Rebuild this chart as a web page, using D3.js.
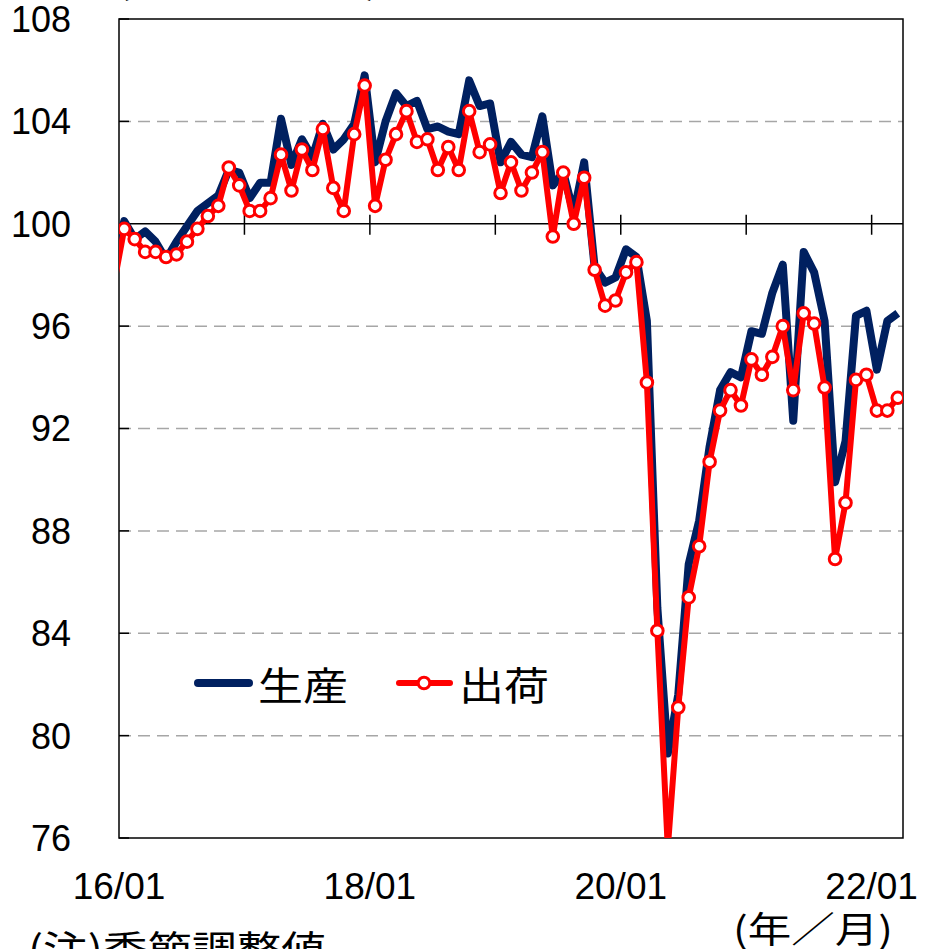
<!DOCTYPE html>
<meta charset="utf-8">
<style>
body { margin: 0; background: #fff; }
svg { display: block; }
text { font-family: "Liberation Sans", Arial, sans-serif; fill: #000; }
.jp { font-family: "Noto Sans CJK JP", sans-serif; }
</style>
<body>
<script src="https://d3js.org/d3.v7.min.js"></script>
<script>

// months from 2015/12 to 2022/03 (first one sits just left of the axis)
var months = d3.timeMonth.range(new Date(2015, 11, 1), new Date(2022, 3, 1));

// 生産 (production index)
var production = [98.6,
  100.1, 99.4, 99.7, 99.3, 98.6, 99.3, 99.9, 100.5, 100.8, 101.1, 102.1, 102.0,
  101.0, 101.6, 101.6, 104.1, 102.3, 103.3, 102.6, 103.9, 102.9, 103.3, 103.9, 105.8,
  102.4, 104.0, 105.1, 104.6, 104.8, 103.7, 103.8, 103.6, 103.5, 105.6, 104.6, 104.7,
  102.4, 103.2, 102.7, 102.6, 104.2, 101.5, 102.0, 100.4, 102.4, 98.3, 97.7, 97.9,
  99.0, 98.7, 96.2, 85.0, 79.3, 81.6, 86.7, 88.4, 91.3, 93.5, 94.2, 94.0,
  95.8, 95.7, 97.3, 98.4, 92.3, 98.9, 98.1, 96.2, 89.9, 91.5, 96.4, 96.6,
  94.3, 96.2, 96.5];

// 出荷 (shipments index)
var shipments = [97.6,
  99.8, 99.4, 98.9, 98.9, 98.7, 98.8, 99.3, 99.8, 100.3, 100.7, 102.2, 101.5,
  100.5, 100.5, 101.0, 102.7, 101.3, 102.9, 102.1, 103.7, 101.4, 100.5, 103.5, 105.4,
  100.7, 102.5, 103.5, 104.4, 103.2, 103.3, 102.1, 103.0, 102.1, 104.4, 102.8, 103.1,
  101.2, 102.4, 101.3, 102.0, 102.8, 99.5, 102.0, 100.0, 101.8, 98.2, 96.8, 97.0,
  98.1, 98.5, 93.8, 84.1, 75.6, 81.1, 85.4, 87.4, 90.7, 92.7, 93.5, 92.9,
  94.7, 94.1, 94.8, 96.0, 93.5, 96.5, 96.1, 93.6, 86.9, 89.1, 93.9, 94.1,
  92.7, 92.7, 93.2];

var yTicks = [76, 80, 84, 88, 92, 96, 100, 104, 108];
var xLabels = ["16/01", "18/01", "20/01", "22/01"];

var width = 926, height = 949;
var plotL = 119, plotR = 903, plotT = 19, plotB = 838;

var svg = d3.select("body").append("svg")
    .attr("width", width)
    .attr("height", height);

// month offset from 2016/01 -> x ; points are drawn in the middle of each month
var x = d3.scaleLinear().domain([0, 75]).range([plotL, plotR]);
var y = d3.scaleLinear().domain([76, 108]).range([plotB, plotT]);

function offset(d) {
  return (d.getFullYear() - 2016) * 12 + d.getMonth() + 0.5;
}

svg.append("clipPath").attr("id", "plot")
  .append("rect")
    .attr("x", plotL).attr("y", plotT)
    .attr("width", plotR - plotL).attr("height", plotB - plotT);

// dashed grid lines
svg.append("g")
  .selectAll("line")
  .data(yTicks.filter(function(d) { return d != 100 && d != 76 && d != 108; }))
  .join("line")
    .attr("x1", plotL).attr("x2", plotR)
    .attr("y1", function(d) { return y(d); })
    .attr("y2", function(d) { return y(d); })
    .attr("stroke", "#a6a6a6")
    .attr("stroke-width", 1.5)
    .attr("stroke-dasharray", "12,7");

// inner tick marks on the y axis
svg.append("g")
  .selectAll("line")
  .data(yTicks)
  .join("line")
    .attr("x1", plotL).attr("x2", plotL + 10)
    .attr("y1", function(d) { return y(d); })
    .attr("y2", function(d) { return y(d); })
    .attr("stroke", "#000")
    .attr("stroke-width", 1.5);

// the 100 base line with yearly ticks
svg.append("line")
    .attr("x1", plotL).attr("x2", plotR)
    .attr("y1", y(100)).attr("y2", y(100))
    .attr("stroke", "#000")
    .attr("stroke-width", 1.5);

svg.append("g")
  .selectAll("line")
  .data([12, 24, 36, 48, 60, 72])
  .join("line")
    .attr("x1", function(d) { return x(d); })
    .attr("x2", function(d) { return x(d); })
    .attr("y1", y(100) - 9).attr("y2", y(100) + 11)
    .attr("stroke", "#000")
    .attr("stroke-width", 1.5);

// frame
svg.append("rect")
    .attr("x", plotL).attr("y", plotT)
    .attr("width", plotR - plotL).attr("height", plotB - plotT)
    .attr("fill", "none")
    .attr("stroke", "#000")
    .attr("stroke-width", 1.5);

var line = d3.line()
    .x(function(d, i) { return x(offset(months[i])); })
    .y(function(d) { return y(d); });

var g = svg.append("g").attr("clip-path", "url(#plot)");

g.append("path")
    .datum(production)
    .attr("d", line)
    .attr("fill", "none")
    .attr("stroke", "#002060")
    .attr("stroke-width", 8)
    .attr("stroke-linejoin", "round");

g.append("path")
    .datum(shipments)
    .attr("d", line)
    .attr("fill", "none")
    .attr("stroke", "#ff0000")
    .attr("stroke-width", 6)
    .attr("stroke-linejoin", "round");

g.selectAll("circle")
  .data(shipments.map(function(v, i) { return {v: v, m: months[i]}; })
        .filter(function(d) { return d.m >= new Date(2016, 0, 1) && d.v >= 76; }))
  .join("circle")
    .attr("cx", function(d) { return x(offset(d.m)); })
    .attr("cy", function(d) { return y(d.v); })
    .attr("r", 5.8)
    .attr("fill", "#fff")
    .attr("stroke", "#ff0000")
    .attr("stroke-width", 3);

// y labels
svg.append("g")
  .selectAll("text")
  .data(yTicks)
  .join("text")
    .attr("x", 71)
    .attr("y", function(d) { return y(d); })
    .attr("dy", "0.36em")
    .attr("text-anchor", "end")
    .attr("font-size", "36px")
    .text(function(d) { return d; });

// x labels
svg.append("g")
  .selectAll("text")
  .data(xLabels)
  .join("text")
    .attr("x", function(d, i) { return x(i * 24); })
    .attr("y", 899)
    .attr("text-anchor", "middle")
    .attr("font-size", "37px")
    .text(function(d) { return d; });

// legend
svg.append("line")
    .attr("x1", 198).attr("x2", 249)
    .attr("y1", 683).attr("y2", 683)
    .attr("stroke", "#002060").attr("stroke-width", 8)
    .attr("stroke-linecap", "round");
svg.append("text").attr("class", "jp")
    .attr("x", 258).attr("y", 700)
    .attr("font-size", "39px")
    .attr("textLength", 90)
    .attr("lengthAdjust", "spacingAndGlyphs")
    .text("生産");

svg.append("line")
    .attr("x1", 399).attr("x2", 450)
    .attr("y1", 683).attr("y2", 683)
    .attr("stroke", "#ff0000").attr("stroke-width", 6)
    .attr("stroke-linecap", "round");
svg.append("circle")
    .attr("cx", 424).attr("cy", 683).attr("r", 5.8)
    .attr("fill", "#fff").attr("stroke", "#ff0000").attr("stroke-width", 3);
svg.append("text").attr("class", "jp")
    .attr("x", 459).attr("y", 700)
    .attr("font-size", "39px")
    .attr("textLength", 90)
    .attr("lengthAdjust", "spacingAndGlyphs")
    .text("出荷");

// notes around the chart (partly outside the picture)
svg.append("text").attr("class", "jp")
    .attr("x", 116).attr("y", -7)
    .attr("font-size", "40px")
    .attr("textLength", 264)
    .attr("lengthAdjust", "spacingAndGlyphs")
    .text("(2015年=100)");

svg.append("text").attr("class", "jp")
    .attr("x", 733).attr("y", 943)
    .attr("font-size", "36px")
    .attr("textLength", 160)
    .attr("lengthAdjust", "spacingAndGlyphs")
    .text("(年／月)");

svg.append("text").attr("class", "jp")
    .attr("x", 28).attr("y", 963)
    .attr("font-size", "38px")
    .attr("textLength", 298)
    .attr("lengthAdjust", "spacingAndGlyphs")
    .text("(注)季節調整値");

</script>
</body>
